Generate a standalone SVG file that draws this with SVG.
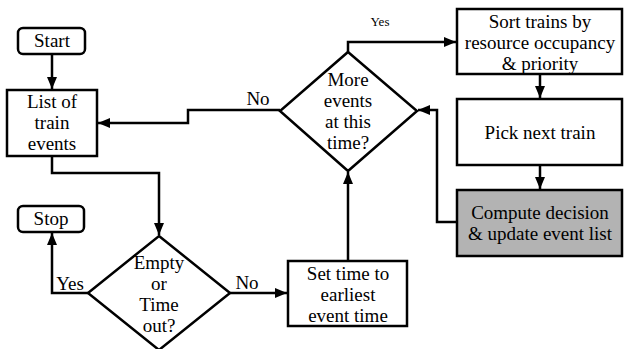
<svg xmlns="http://www.w3.org/2000/svg" width="624" height="349" viewBox="0 0 624 349">
<style>
.b{fill:#fff;stroke:#000;stroke-width:2.5}
.g{fill:#b3b3b3;stroke:#000;stroke-width:2.5}
.c{fill:none;stroke:#000;stroke-width:2.5}
</style>
<defs>
<marker id="a" markerWidth="12" markerHeight="10" refX="12" refY="5" orient="auto" markerUnits="userSpaceOnUse">
<path d="M0,0 L12,5 L0,10 Z" fill="#000"/>
</marker>
</defs>
<g id="connectors">
<path class="c" d="M52,54 V89" marker-end="url(#a)"/>
<path class="c" d="M280,110 H188 V123 H98" marker-end="url(#a)"/>
<path class="c" d="M52,156 V173 H159 V235" marker-end="url(#a)"/>
<path class="c" d="M88,293 H52 V233" marker-end="url(#a)"/>
<path class="c" d="M230,293 H287" marker-end="url(#a)"/>
<path class="c" d="M348,261 V172" marker-end="url(#a)"/>
<path class="c" d="M348,52 V42 H456" marker-end="url(#a)"/>
<path class="c" d="M540,74 V98" marker-end="url(#a)"/>
<path class="c" d="M540,165 V189" marker-end="url(#a)"/>
<path class="c" d="M457,222 H437 V110 H418" marker-end="url(#a)"/>
<text font-family="Liberation Serif" font-size="19" text-anchor="middle" x="258" y="105">No</text>
<text font-family="Liberation Serif" font-size="19" text-anchor="middle" x="70" y="290">Yes</text>
<text font-family="Liberation Serif" font-size="19" text-anchor="middle" x="247" y="289">No</text>
<text font-family="Liberation Serif" font-size="13" text-anchor="middle" x="380" y="26">Yes</text>
</g>
<g id="start"><rect class="b" x="18" y="28" width="67" height="26" rx="5"/><text font-family="Liberation Serif" font-size="19" text-anchor="middle" x="52" y="47">Start</text></g>
<g id="list"><rect class="b" x="7" y="90" width="90" height="66"/><text font-family="Liberation Serif" font-size="19" text-anchor="middle" x="52" y="108">List of</text><text font-family="Liberation Serif" font-size="19" text-anchor="middle" x="52" y="129">train</text><text font-family="Liberation Serif" font-size="19" text-anchor="middle" x="52" y="150">events</text></g>
<g id="stop"><rect class="b" x="18" y="206" width="66" height="26" rx="5"/><text font-family="Liberation Serif" font-size="19" text-anchor="middle" x="51" y="225">Stop</text></g>
<g id="empty"><path class="b" d="M159,236 L230,293 L159,350 L88,293 Z"/><text font-family="Liberation Serif" font-size="19" text-anchor="middle" x="159" y="269">Empty</text><text font-family="Liberation Serif" font-size="19" text-anchor="middle" x="159" y="290">or</text><text font-family="Liberation Serif" font-size="19" text-anchor="middle" x="159" y="311">Time</text><text font-family="Liberation Serif" font-size="19" text-anchor="middle" x="159" y="332">out?</text></g>
<g id="settime"><rect class="b" x="288" y="261" width="119" height="65"/><text font-family="Liberation Serif" font-size="19" text-anchor="middle" x="348" y="280">Set time to</text><text font-family="Liberation Serif" font-size="19" text-anchor="middle" x="348" y="301">earliest</text><text font-family="Liberation Serif" font-size="19" text-anchor="middle" x="348" y="322">event time</text></g>
<g id="more"><path class="b" d="M348,52 L417,111 L348,171 L280,111 Z"/><text font-family="Liberation Serif" font-size="19" text-anchor="middle" x="348" y="86">More</text><text font-family="Liberation Serif" font-size="19" text-anchor="middle" x="348" y="107">events</text><text font-family="Liberation Serif" font-size="19" text-anchor="middle" x="348" y="128">at this</text><text font-family="Liberation Serif" font-size="19" text-anchor="middle" x="348" y="149">time?</text></g>
<g id="sort"><rect class="b" x="457" y="9" width="165" height="65"/><text font-family="Liberation Serif" font-size="19" text-anchor="middle" x="540" y="28">Sort trains by</text><text font-family="Liberation Serif" font-size="19" text-anchor="middle" x="540" y="49">resource occupancy</text><text font-family="Liberation Serif" font-size="19" text-anchor="middle" x="540" y="70">&amp; priority</text></g>
<g id="pick"><rect class="b" x="457" y="99" width="165" height="66"/><text font-family="Liberation Serif" font-size="19" text-anchor="middle" x="540" y="139">Pick next train</text></g>
<g id="compute"><rect class="g" x="457" y="190" width="165" height="66"/><text font-family="Liberation Serif" font-size="19" text-anchor="middle" x="540" y="219">Compute decision</text><text font-family="Liberation Serif" font-size="19" text-anchor="middle" x="540" y="240">&amp; update event list</text></g>
</svg>
